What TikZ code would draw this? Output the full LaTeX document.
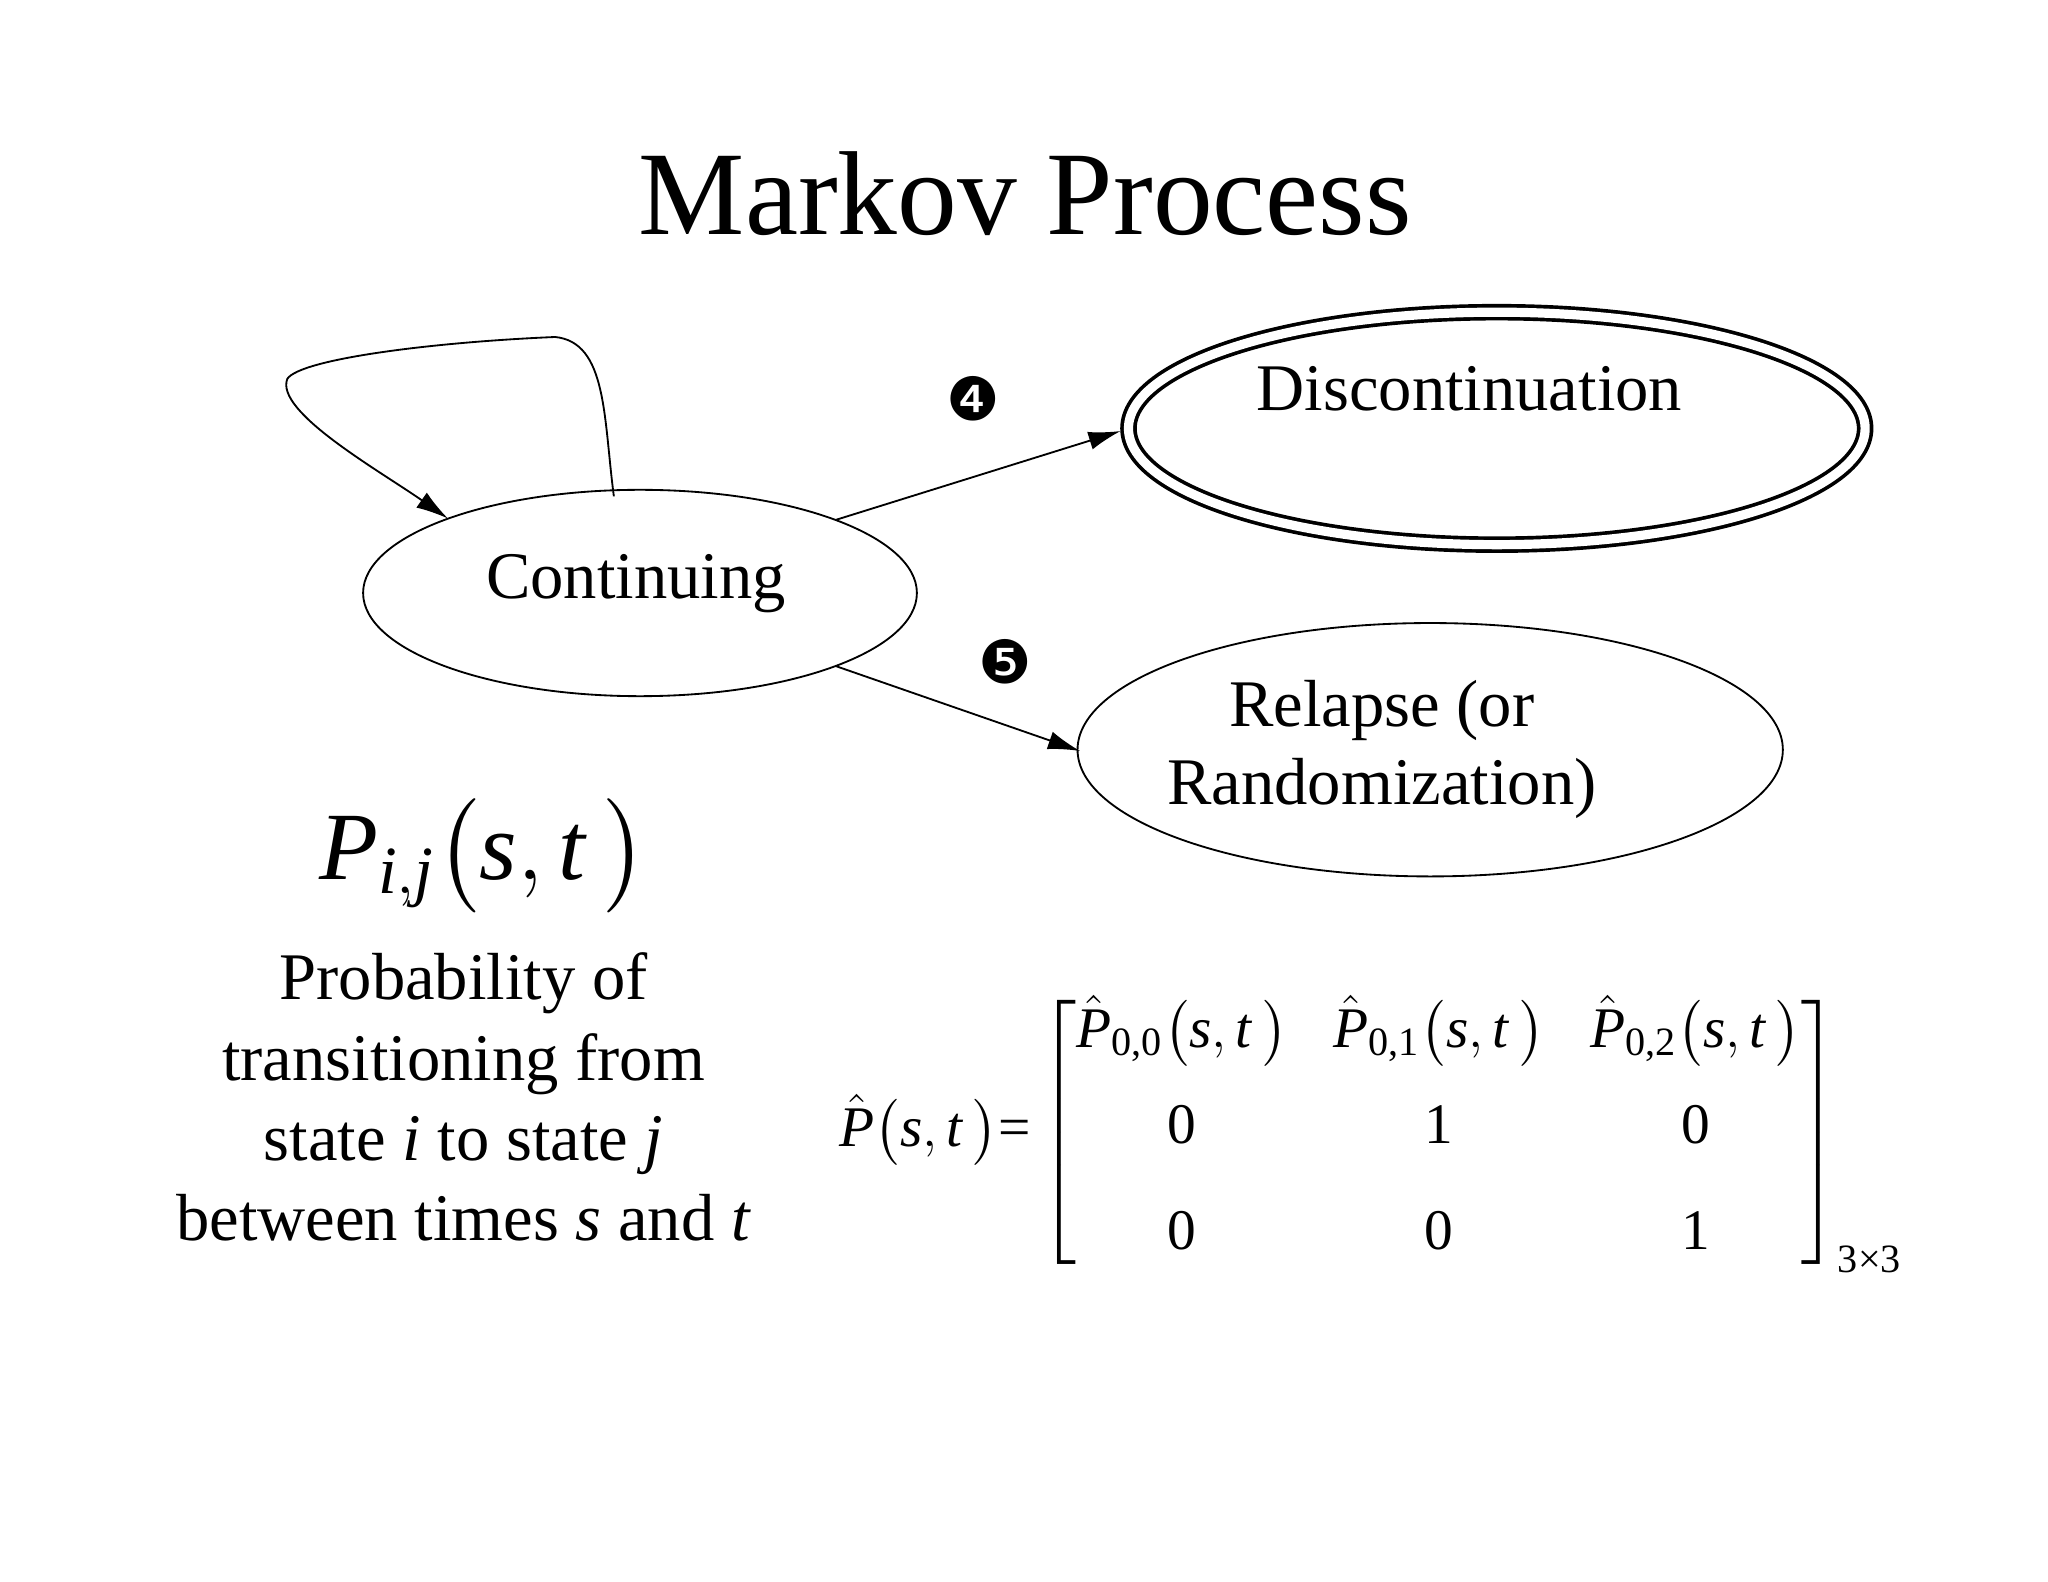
\documentclass[tikz,border=0pt]{standalone}
\usepackage{amsmath}
\usepackage{fontspec}
\setmainfont{Liberation Serif}
\newfontfamily\dingfont{DejaVu Sans}
\newcommand{\ti}[1]{\text{\textit{#1}}}
\newcommand{\tr}[1]{\text{\upshape #1}}
\usetikzlibrary{arrows.meta}
\begin{document}
\begin{tikzpicture}[x=0.01cm,y=-0.01cm,
  arr/.style={-{Latex[length=7pt,width=4pt]},thin}]
\useasboundingbox (0,0) rectangle (1568,1211);
\node[font=\fontsize{26}{30}\selectfont] (title) at (785,148) {Markov Process};
\draw (490,454) ellipse [x radius=212,y radius=79];
\node[font=\fontsize{14.5}{17}\selectfont] (cont) at (487,447) {Continuing};
\coordinate (c1) at (640,398); \coordinate (c2) at (640,510);
\draw[double distance=2pt,line width=0.8pt] (1146,328) ellipse [x radius=282,y radius=89];
\node[font=\fontsize{14.5}{17}\selectfont] (disc) at (1125,298) {Discontinuation};
\coordinate (d1) at (858,330);
\draw (1095,574) ellipse [x radius=270,y radius=97];
\node[font=\fontsize{14.5}{17}\selectfont,align=center] (rel) at (1058,574) {Relapse (or\\Randomization)};
\coordinate (r1) at (827,575);
\draw[arr] (c1) -- (d1);
\draw[arr] (c2) -- (r1);
\node[font=\dingfont\fontsize{13}{15}\selectfont] (m4) at (745,305) {❹};
\node[font=\dingfont\fontsize{13}{15}\selectfont] (m5) at (770,507) {❺};
\coordinate (ls) at (470,380); \coordinate (le) at (343,397);
\draw[arr] (ls) .. controls (462,320) and (465,262) .. (425,258)
  .. controls (330,262) and (230,275) .. (220,290)
  .. controls (210,315) and (290,360) .. (le);
\node[font=\fontsize{21}{25}\selectfont] (pij) at (370,655) {$\ti{P}_{\ti{i},\ti{j}}\bigl(\ti{s},\ti{t}\,\bigr)$};
\node[font=\fontsize{14.5}{17.5}\selectfont,align=center] (desc) at (355,840)
  {Probability of\\transitioning from\\state \textit{i} to state \textit{j}\\between times \textit{s} and \textit{t}};
\node[font=\fontsize{12.5}{15}\selectfont] (mat) at (1050,868)
  {$\hat{\ti{P}}\bigl(\ti{s},\ti{t}\,\bigr)\tr{=}\begin{bmatrix}\hat{\ti{P}}_{\tr{0,0}}\bigl(\ti{s},\ti{t}\,\bigr) & \hat{\ti{P}}_{\tr{0,1}}\bigl(\ti{s},\ti{t}\,\bigr) & \hat{\ti{P}}_{\tr{0,2}}\bigl(\ti{s},\ti{t}\,\bigr)\\[6pt] \tr{0} & \tr{1} & \tr{0}\\[8pt] \tr{0} & \tr{0} & \tr{1}\end{bmatrix}_{\tr{3×3}}$};
\end{tikzpicture}
\end{document}
